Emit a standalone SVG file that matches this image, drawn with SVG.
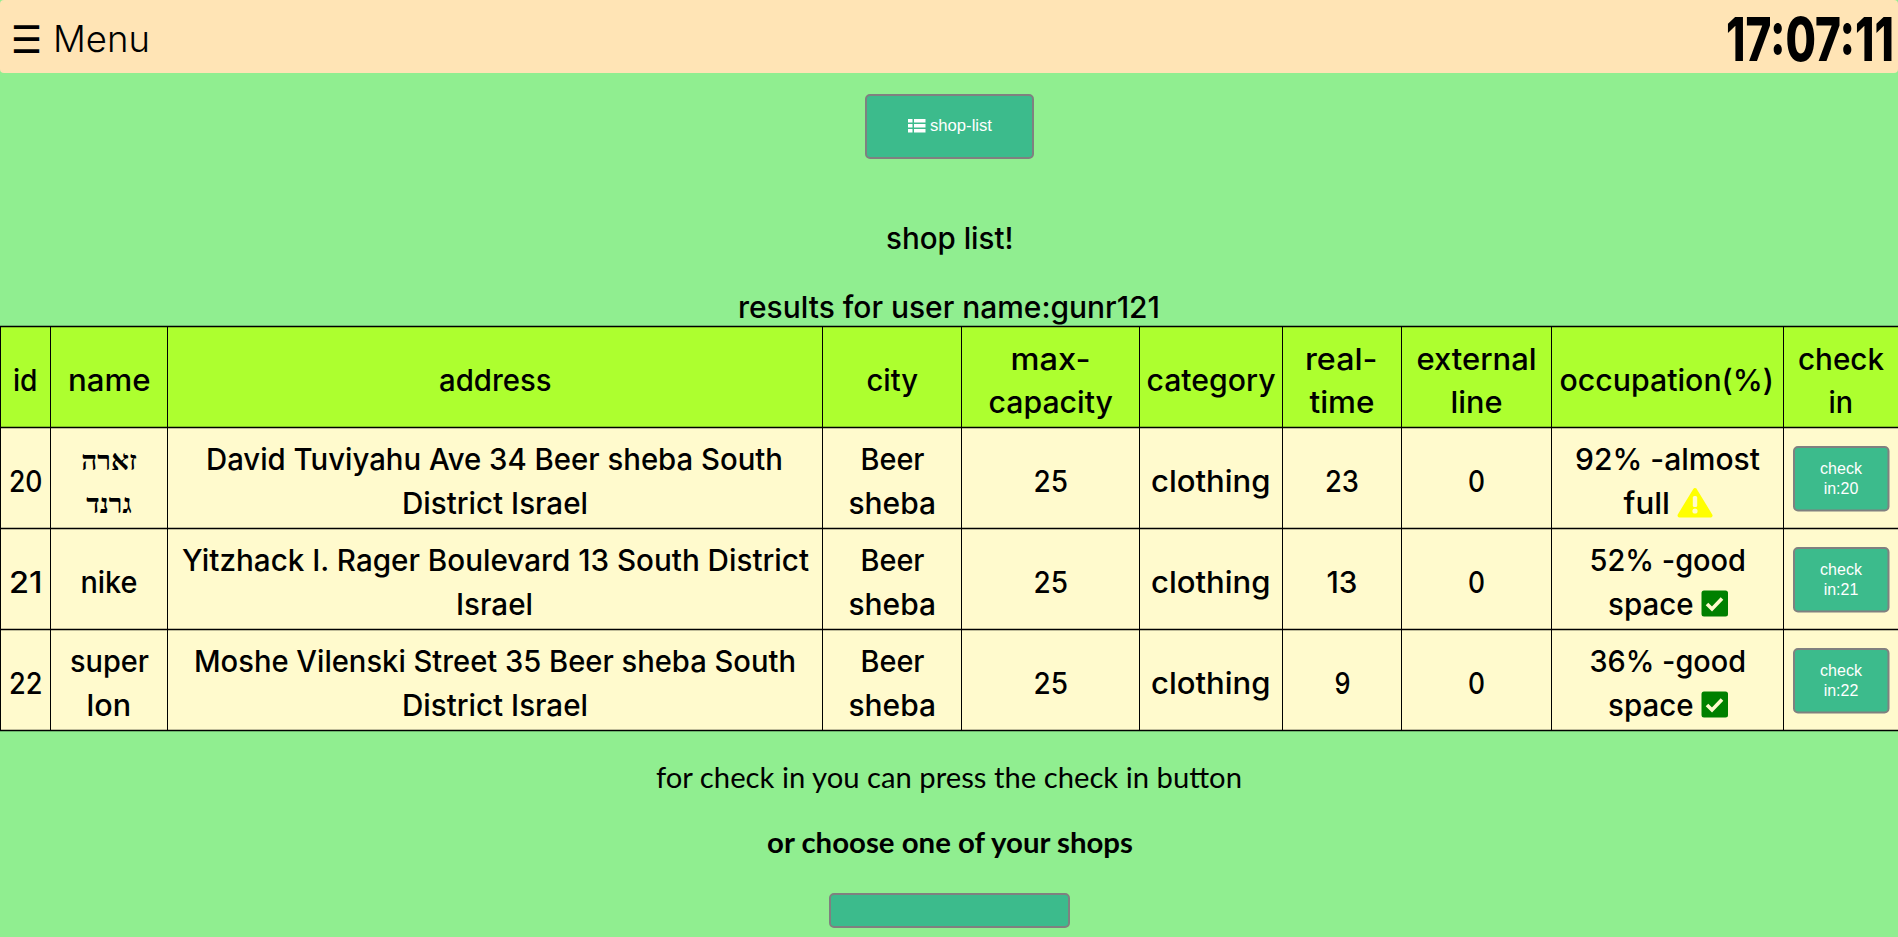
<svg xmlns="http://www.w3.org/2000/svg" width="1898" height="937" viewBox="0 0 1898 937">
<style>
.t{font-family:"Inter","Noto Sans",sans-serif;font-size:30px;font-weight:500;fill:#000}
.m{font-family:"Lato","Noto Sans",sans-serif;font-size:29px;fill:#000}
.b{font-family:"Liberation Sans",Arial,sans-serif;font-size:16px;fill:#fff;text-anchor:middle}
.h{font-family:"Liberation Serif","Noto Sans",serif;font-size:28px;font-weight:700;fill:#000;text-anchor:middle}
.btn{fill:#3cbb8c;stroke:#808080;stroke-width:2}
.l{stroke:#000;stroke-width:1;fill:none}
.r{stroke:#000;stroke-width:1.5;fill:none}
</style>
<defs>
<g id="chk"><rect x="0" y="0" width="26.5" height="26" rx="2.5" fill="#008000"/><path d="M5.5 13.5l5 5 10-10.5" fill="none" stroke="#fffacd" stroke-width="3.6"/></g>
</defs>
<rect id="page" width="1898" height="937" fill="#90ee90"/>
<g id="header">
<rect width="1898" height="73" rx="4" fill="#ffe4b5"/>
<text x="11" y="53" font-family="DejaVu Sans,sans-serif" font-size="38" textLength="31" lengthAdjust="spacingAndGlyphs">☰</text>
<text x="53" y="52" style="font-family:Inter,sans-serif;font-size:37px;font-weight:300" textLength="97" lengthAdjust="spacingAndGlyphs">Menu</text>
<text transform="translate(1726 61) scale(0.735 1)" style="font-family:Inter,sans-serif;font-size:60px;font-weight:800">17:07:11</text>
</g>
<g id="shop-list-button">
<rect class="btn" x="866" y="95" width="167" height="63" rx="4"/>
<g fill="#fff"><rect x="908" y="119" width="4.5" height="3.5"/><rect x="908" y="124" width="4.5" height="3.5"/><rect x="908" y="129" width="4.5" height="3.5"/><rect x="914" y="119" width="11.5" height="3.5"/><rect x="914" y="124" width="11.5" height="3.5"/><rect x="914" y="129" width="11.5" height="3.5"/></g>
<text x="930" y="131" class="b" style="text-anchor:start" textLength="62" lengthAdjust="spacingAndGlyphs">shop-list</text>
</g>
<g id="titles">
<text x="886" y="249" class="t" textLength="127.5" lengthAdjust="spacingAndGlyphs">shop list!</text>
<text x="738" y="317.5" class="t" textLength="422" lengthAdjust="spacingAndGlyphs">results for user name:gunr121</text>
</g>
<g id="table">
<rect x="0" y="326" width="1898" height="101" fill="#adff2f"/>
<rect x="0" y="427" width="1898" height="303.5" fill="#fffacd"/>
<g id="table-grid">
<path class="r" d="M0 326.5H1898M0 427.5H1898M0 528.5H1898M0 629.5H1898M0 730.5H1898"/>
<path class="l" d="M0.5 326V731M50.5 326V731M167.5 326V731M822.5 326V731M961.5 326V731M1139.5 326V731M1282.5 326V731M1401.5 326V731M1551.5 326V731M1783.5 326V731"/>
</g>
<g id="table-head">
<text x="13" y="391" class="t" textLength="24.5" lengthAdjust="spacingAndGlyphs">id</text>
<text x="68" y="391" class="t" textLength="82.5" lengthAdjust="spacingAndGlyphs">name</text>
<text x="439" y="391" class="t" textLength="112.5" lengthAdjust="spacingAndGlyphs">address</text>
<text x="866.5" y="391" class="t" textLength="51.5" lengthAdjust="spacingAndGlyphs">city</text>
<text x="1010.5" y="369.5" class="t" textLength="80" lengthAdjust="spacingAndGlyphs">max-</text>
<text x="988.5" y="413" class="t" textLength="124.5" lengthAdjust="spacingAndGlyphs">capacity</text>
<text x="1146.5" y="391" class="t" textLength="129" lengthAdjust="spacingAndGlyphs">category</text>
<text x="1305" y="369.5" class="t" textLength="72.5" lengthAdjust="spacingAndGlyphs">real-</text>
<text x="1309.5" y="413" class="t" textLength="65" lengthAdjust="spacingAndGlyphs">time</text>
<text x="1416.5" y="369.5" class="t" textLength="120" lengthAdjust="spacingAndGlyphs">external</text>
<text x="1450.5" y="413" class="t" textLength="52" lengthAdjust="spacingAndGlyphs">line</text>
<text x="1559.5" y="391" class="t" textLength="214.5" lengthAdjust="spacingAndGlyphs">occupation(%)</text>
<text x="1798" y="369.5" class="t" textLength="86" lengthAdjust="spacingAndGlyphs">check</text>
<text x="1828.5" y="413" class="t" textLength="24.5" lengthAdjust="spacingAndGlyphs">in</text>
</g>
<g id="row-20">
<text x="9" y="492" class="t" textLength="33.5" lengthAdjust="spacingAndGlyphs">20</text>
<text x="109" y="470" class="h">זארה</text>
<text x="109" y="513" class="h">גרנד</text>
<text x="206" y="470" class="t" textLength="577" lengthAdjust="spacingAndGlyphs">David Tuviyahu Ave 34 Beer sheba South</text>
<text x="402" y="514" class="t" textLength="186" lengthAdjust="spacingAndGlyphs">District Israel</text>
<text x="860.5" y="470" class="t" textLength="64" lengthAdjust="spacingAndGlyphs">Beer</text>
<text x="848.5" y="514" class="t" textLength="87.5" lengthAdjust="spacingAndGlyphs">sheba</text>
<text x="1033.5" y="492" class="t" textLength="34.5" lengthAdjust="spacingAndGlyphs">25</text>
<text x="1151" y="492" class="t" textLength="119.5" lengthAdjust="spacingAndGlyphs">clothing</text>
<text x="1325" y="492" class="t" textLength="34" lengthAdjust="spacingAndGlyphs">23</text>
<text x="1468" y="492" class="t" textLength="17" lengthAdjust="spacingAndGlyphs">0</text>
<text x="1575" y="470" class="t" textLength="185" lengthAdjust="spacingAndGlyphs">92% -almost</text>
<text x="1623.5" y="514" class="t" textLength="46.5" lengthAdjust="spacingAndGlyphs">full</text>
<g id="warning-icon"><path d="M1695 490 L1710.5 515.5 H1679.5 Z" fill="#ffff00" stroke="#ffff00" stroke-width="4" stroke-linejoin="round"/><rect x="1692.8" y="496" width="4.4" height="11" rx="1.5" fill="#fffacd"/><circle cx="1695" cy="511" r="2.6" fill="#fffacd"/></g>
<rect class="btn" x="1794" y="447" width="94.5" height="63.5" rx="4"/>
<text x="1841" y="474" class="b">check</text>
<text x="1841" y="494" class="b">in:20</text>
</g>
<g id="row-21">
<text x="9" y="593" class="t" textLength="33.5" lengthAdjust="spacingAndGlyphs">21</text>
<text x="80.5" y="593" class="t" textLength="57" lengthAdjust="spacingAndGlyphs">nike</text>
<text x="182" y="571" class="t" textLength="627" lengthAdjust="spacingAndGlyphs">Yitzhack I. Rager Boulevard 13 South District</text>
<text x="456" y="615" class="t" textLength="77" lengthAdjust="spacingAndGlyphs">Israel</text>
<text x="860.5" y="571" class="t" textLength="64" lengthAdjust="spacingAndGlyphs">Beer</text>
<text x="848.5" y="615" class="t" textLength="87.5" lengthAdjust="spacingAndGlyphs">sheba</text>
<text x="1033.5" y="593" class="t" textLength="34.5" lengthAdjust="spacingAndGlyphs">25</text>
<text x="1151" y="593" class="t" textLength="119.5" lengthAdjust="spacingAndGlyphs">clothing</text>
<text x="1326.5" y="593" class="t" textLength="31" lengthAdjust="spacingAndGlyphs">13</text>
<text x="1468" y="593" class="t" textLength="17" lengthAdjust="spacingAndGlyphs">0</text>
<text x="1589.5" y="571" class="t" textLength="156.5" lengthAdjust="spacingAndGlyphs">52% -good</text>
<text x="1608" y="615" class="t" textLength="85.5" lengthAdjust="spacingAndGlyphs">space</text>
<use href="#chk" x="1701.5" y="590.5"/>
<rect class="btn" x="1794" y="548" width="94.5" height="63.5" rx="4"/>
<text x="1841" y="575" class="b">check</text>
<text x="1841" y="595" class="b">in:21</text>
</g>
<g id="row-22">
<text x="9" y="694" class="t" textLength="33.5" lengthAdjust="spacingAndGlyphs">22</text>
<text x="70" y="672" class="t" textLength="79" lengthAdjust="spacingAndGlyphs">super</text>
<text x="86.5" y="716" class="t" textLength="44.5" lengthAdjust="spacingAndGlyphs">lon</text>
<text x="194" y="672" class="t" textLength="602" lengthAdjust="spacingAndGlyphs">Moshe Vilenski Street 35 Beer sheba South</text>
<text x="402" y="716" class="t" textLength="186" lengthAdjust="spacingAndGlyphs">District Israel</text>
<text x="860.5" y="672" class="t" textLength="64" lengthAdjust="spacingAndGlyphs">Beer</text>
<text x="848.5" y="716" class="t" textLength="87.5" lengthAdjust="spacingAndGlyphs">sheba</text>
<text x="1033.5" y="694" class="t" textLength="34.5" lengthAdjust="spacingAndGlyphs">25</text>
<text x="1151" y="694" class="t" textLength="119.5" lengthAdjust="spacingAndGlyphs">clothing</text>
<text x="1334.5" y="694" class="t" textLength="16" lengthAdjust="spacingAndGlyphs">9</text>
<text x="1468" y="694" class="t" textLength="17" lengthAdjust="spacingAndGlyphs">0</text>
<text x="1589.5" y="672" class="t" textLength="156.5" lengthAdjust="spacingAndGlyphs">36% -good</text>
<text x="1608" y="716" class="t" textLength="85.5" lengthAdjust="spacingAndGlyphs">space</text>
<use href="#chk" x="1701.5" y="691.5"/>
<rect class="btn" x="1794" y="649" width="94.5" height="63.5" rx="4"/>
<text x="1841" y="676" class="b">check</text>
<text x="1841" y="696" class="b">in:22</text>
</g>
</g>
<g id="footer">
<text x="656" y="788" class="m" textLength="586" lengthAdjust="spacingAndGlyphs">for check in you can press the check in button</text>
<text x="767" y="853" class="m" style="font-weight:700" textLength="366" lengthAdjust="spacingAndGlyphs">or choose one of your shops</text>
<rect class="btn" x="830" y="894" width="239" height="33" rx="4"/>
</g>
</svg>
